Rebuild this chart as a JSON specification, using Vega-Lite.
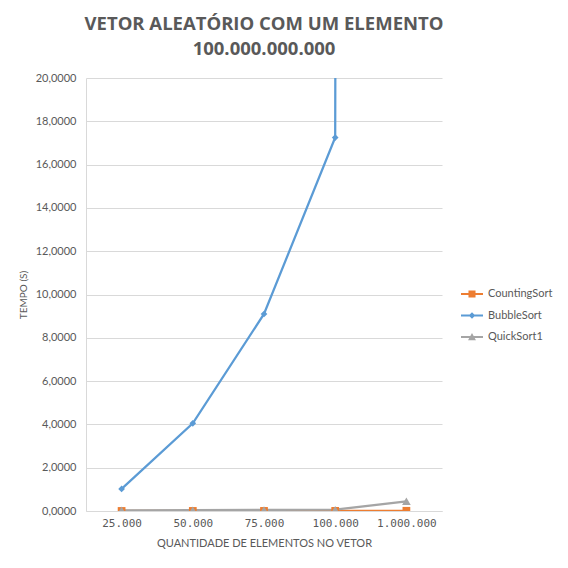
{
  "$schema": "https://vega.github.io/schema/vega-lite/v6.json",
  "autosize": "none",
  "width": 356,
  "height": 433,
  "padding": {"left": 86, "top": 78, "right": 126, "bottom": 57},
  "background": "white",
  "config": {
    "locale": {"number": {"decimal": ",", "thousands": ".", "grouping": [3], "currency": ["R$", ""]}},
    "view": {"stroke": null},
    "font": "Lato"
  },
  "title": {
    "text": ["VETOR ALEATÓRIO COM UM ELEMENTO", "100.000.000.000"],
    "font": "Open Sans",
    "fontSize": 18.5,
    "fontWeight": "bold",
    "color": "#595959",
    "anchor": "middle",
    "lineHeight": 25,
    "offset": 14
  },
  "data": {
    "values": [
      {"serie": "CountingSort", "n": "25.000", "t": 0.002},
      {"serie": "CountingSort", "n": "50.000", "t": 0.003},
      {"serie": "CountingSort", "n": "75.000", "t": 0.004},
      {"serie": "CountingSort", "n": "100.000", "t": 0.005},
      {"serie": "CountingSort", "n": "1.000.000", "t": 0.01},
      {"serie": "BubbleSort", "n": "25.000", "t": 1.02},
      {"serie": "BubbleSort", "n": "50.000", "t": 4.05},
      {"serie": "BubbleSort", "n": "75.000", "t": 9.1},
      {"serie": "BubbleSort", "n": "100.000", "t": 17.25},
      {"serie": "BubbleSort", "n": "1.000.000", "t": 1750},
      {"serie": "QuickSort1", "n": "25.000", "t": 0.03},
      {"serie": "QuickSort1", "n": "50.000", "t": 0.04},
      {"serie": "QuickSort1", "n": "75.000", "t": 0.05},
      {"serie": "QuickSort1", "n": "100.000", "t": 0.06},
      {"serie": "QuickSort1", "n": "1.000.000", "t": 0.45}
    ]
  },
  "encoding": {
    "x": {
      "field": "n", "type": "ordinal",
      "sort": ["25.000", "50.000", "75.000", "100.000", "1.000.000"],
      "scale": {"padding": 0.5},
      "axis": {
        "title": "QUANTIDADE DE ELEMENTOS NO VETOR",
        "titleFont": "Lato", "titleFontSize": 11, "titleFontWeight": "normal", "titleColor": "#595959", "titlePadding": 9,
        "labelAngle": 0, "labelFont": "DejaVu Sans Mono", "labelFontSize": 11, "labelColor": "#595959", "labelPadding": 6,
        "ticks": false, "domainColor": "#D9D9D9", "domainWidth": 1, "grid": false
      }
    },
    "y": {
      "field": "t", "type": "quantitative",
      "scale": {"domain": [0, 20], "nice": false, "zero": true},
      "axis": {
        "title": "TEMPO (S)",
        "titleFont": "Lato", "titleFontSize": 10, "titleFontWeight": "normal", "titleColor": "#595959", "titlePadding": 7,
        "values": [0, 2, 4, 6, 8, 10, 12, 14, 16, 18, 20],
        "format": ".4f",
        "labelFont": "Lato", "labelFontSize": 11, "labelColor": "#595959", "labelPadding": 10,
        "ticks": false, "domainColor": "#D9D9D9", "gridColor": "#D9D9D9", "gridWidth": 1
      }
    }
  },
  "layer": [
    {
      "mark": {"type": "line", "strokeWidth": 2.25, "clip": true},
      "encoding": {
        "stroke": {
          "field": "serie", "type": "nominal",
          "sort": ["CountingSort", "BubbleSort", "QuickSort1"],
          "scale": {"domain": ["CountingSort", "BubbleSort", "QuickSort1"], "range": ["#ED7D31", "#5B9BD5", "#A5A5A5"]},
          "legend": {
            "title": null,
            "orient": "none",
            "legendX": 375,
            "legendY": 205,
            "symbolSize": 484,
            "labelFont": "Lato",
            "labelFontSize": 11,
            "labelColor": "#595959",
            "labelOffset": 5,
            "rowPadding": 5.5,
            "encode": {
              "symbols": {
                "update": {
                  "shape": {"signal": "datum.value === 'CountingSort' ? 'M-1,-0.09H1V0.09H-1ZM-0.32,-0.32H0.32V0.32H-0.32Z' : datum.value === 'BubbleSort' ? 'M-1,-0.09H1V0.09H-1ZM0,-0.3L0.3,0L0,0.3L-0.3,0Z' : 'M-1,-0.09H1V0.09H-1ZM0,-0.36L0.36,0.3H-0.36Z'"},
                  "fill": {"signal": "scale('stroke', datum.value)"},
                  "fillOpacity": {"value": 1},
                  "strokeWidth": {"value": 0},
                  "opacity": {"value": 1}
                }
              }
            }
          }
        }
      }
    },
    {
      "transform": [{"filter": "datum.serie === 'CountingSort'"}],
      "mark": {"type": "point", "filled": true, "opacity": 1, "clip": true, "shape": "square", "size": 60, "color": "#ED7D31"}
    },
    {
      "transform": [{"filter": "datum.serie === 'BubbleSort'"}],
      "mark": {"type": "point", "filled": true, "opacity": 1, "clip": true, "shape": "diamond", "size": 45, "color": "#5B9BD5"}
    },
    {
      "transform": [{"filter": "datum.serie === 'QuickSort1'"}],
      "mark": {"type": "point", "filled": true, "opacity": 1, "clip": true, "shape": "triangle-up", "size": 75, "color": "#A5A5A5"}
    }
  ]
}
